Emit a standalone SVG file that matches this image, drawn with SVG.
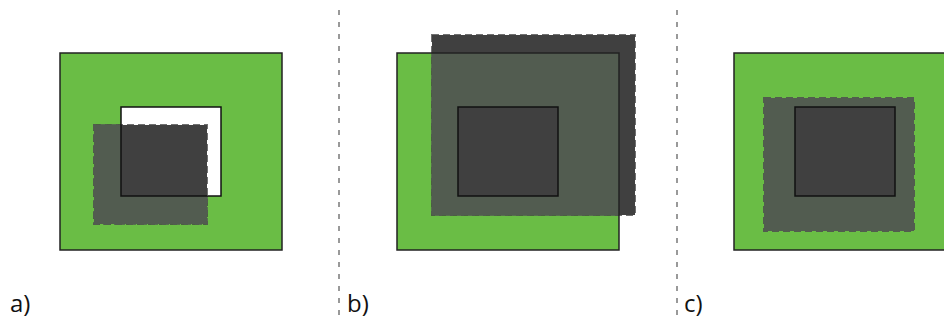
<svg xmlns="http://www.w3.org/2000/svg" width="944" height="320" viewBox="0 0 944 320">
<style>
.green{fill:#6abd45;stroke:none}
.gborder{fill:none;stroke:#222;stroke-width:1.5}
.dark{fill:#404040;stroke:#404040;stroke-width:2;stroke-dasharray:7 4;stroke-opacity:0.75}
.tint{fill:#525c50;fill-rule:evenodd;stroke:none}
.tintedge{fill:none;stroke:#525c50;stroke-width:2;stroke-dasharray:7 4;stroke-opacity:0.8}
.inner{fill:none;stroke:#111;stroke-width:1.5}
.div{stroke:#999;stroke-width:2;stroke-dasharray:5 7;fill:none}
.lbl{font-family:"Open Sans","Liberation Sans",sans-serif;font-size:24px;fill:#111}
</style>
<g id="dividers">
<line class="div" x1="339" y1="10" x2="339" y2="318"/>
<line class="div" x1="677" y1="10" x2="677" y2="318"/>
</g>
<g id="panel-a">
<rect class="green" x="60" y="53" width="222" height="197"/>
<rect x="121" y="107" width="100" height="89" fill="#fff"/>
<rect class="dark" x="94" y="125" width="113" height="99"/>
<path class="tint" d="M94 125h113v99h-113z M121 125h86v71h-86z"/>
<path class="tintedge" d="M121 224H94V125h27 M207 196v28h-86"/>
<rect class="inner" x="121" y="107" width="100" height="89"/>
<rect class="gborder" x="60" y="53" width="222" height="197"/>
<text class="lbl" x="10" y="312">a)</text>
</g>
<g id="panel-b">
<rect class="green" x="397" y="53" width="222" height="197"/>
<rect class="dark" x="432" y="35" width="203" height="180"/>
<path class="tint" d="M432 53h187v162h-187z M458 107h100v89h-100z"/>
<path class="tintedge" d="M432 53v162h187"/>
<rect class="inner" x="458" y="107" width="100" height="89"/>
<rect class="gborder" x="397" y="53" width="222" height="197"/>
<text class="lbl" x="347" y="312">b)</text>
</g>
<g id="panel-c">
<rect class="green" x="734" y="53" width="222" height="197"/>
<rect class="dark" x="764" y="98" width="150" height="133"/>
<path class="tint" d="M764 98h150v133h-150z M795 107h100v89h-100z"/>
<rect class="tintedge" x="764" y="98" width="150" height="133"/>
<rect class="inner" x="795" y="107" width="100" height="89"/>
<rect class="gborder" x="734" y="53" width="222" height="197"/>
<text class="lbl" x="684" y="312">c)</text>
</g>
</svg>
